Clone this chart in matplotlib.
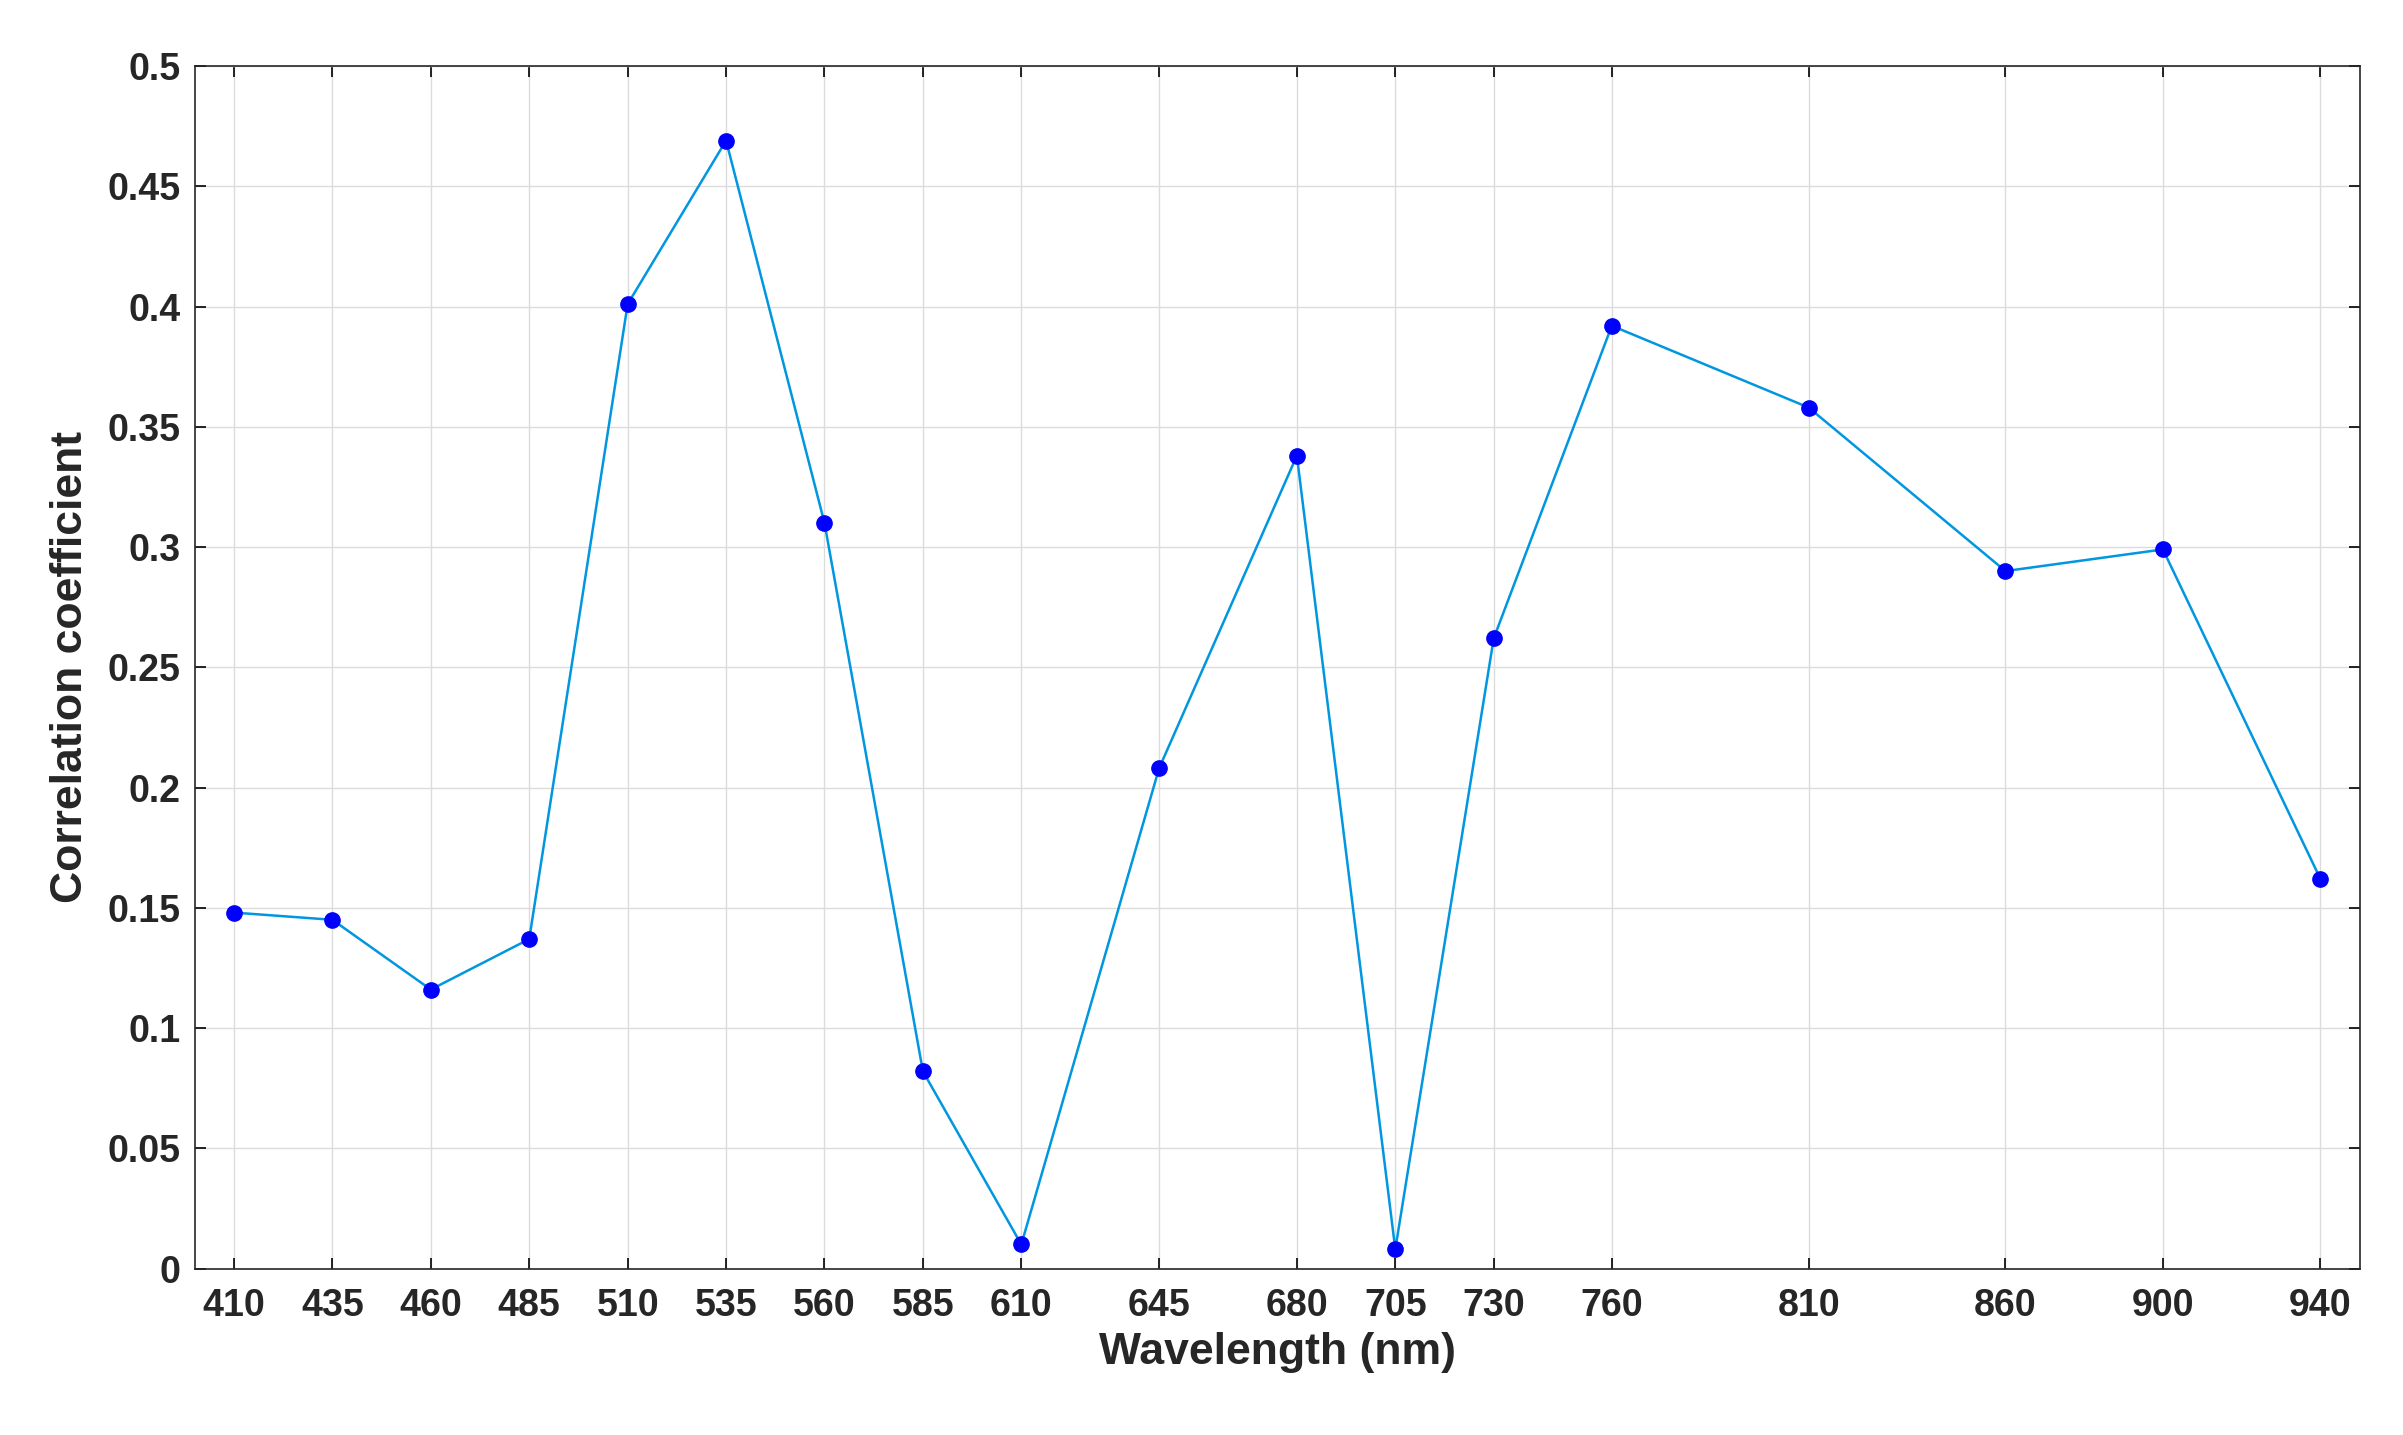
import matplotlib
matplotlib.use("Agg")
import matplotlib.pyplot as plt

wavelengths = [410, 435, 460, 485, 510, 535, 560, 585, 610, 645, 680, 705, 730, 760, 810, 860, 900, 940]
corr = [0.148, 0.145, 0.116, 0.137, 0.401, 0.469, 0.310, 0.082, 0.010, 0.208, 0.338, 0.008, 0.262, 0.392, 0.358, 0.290, 0.299, 0.162]
yticks = [0, 0.05, 0.1, 0.15, 0.2, 0.25, 0.3, 0.35, 0.4, 0.45, 0.5]
ytick_labels = ["0", "0.05", "0.1", "0.15", "0.2", "0.25", "0.3", "0.35", "0.4", "0.45", "0.5"]

plt.rcParams['font.family'] = ['Liberation Sans', 'DejaVu Sans']
fig = plt.figure(figsize=(24.03, 14.35), dpi=100)
ax = fig.add_axes([0.081, 0.116, 0.901, 0.838])
ax.plot(wavelengths, corr, color='#0096e0', lw=1.8, marker='o', ms=11,
        mfc='#0000ff', mec='#0000ff', zorder=3)
ax.set_xlim(400, 950)
ax.set_ylim(0, 0.5)
ax.set_xticks(wavelengths)
ax.set_xticklabels([str(w) for w in wavelengths])
ax.set_yticks(yticks)
ax.set_yticklabels(ytick_labels)
ax.grid(True, color='#dcdcdc', lw=1)
ax.tick_params(labelsize=27, direction='in', length=8, top=True, right=True, width=1.2)
ax.tick_params(axis='x', pad=14)
ax.tick_params(axis='y', pad=10)
for t in ax.get_xticklabels() + ax.get_yticklabels():
    t.set_fontweight('bold')
    t.set_color('#262626')
for s in ax.spines.values():
    s.set_color('#262626')
    s.set_linewidth(1.2)
ax.set_xlabel('Wavelength (nm)', fontsize=32, fontweight='bold', color='#262626', labelpad=6)
ax.set_ylabel('Correlation coefficient', fontsize=32, fontweight='bold', color='#262626', labelpad=12)
fig.savefig('out.png', dpi=100, facecolor='white')
